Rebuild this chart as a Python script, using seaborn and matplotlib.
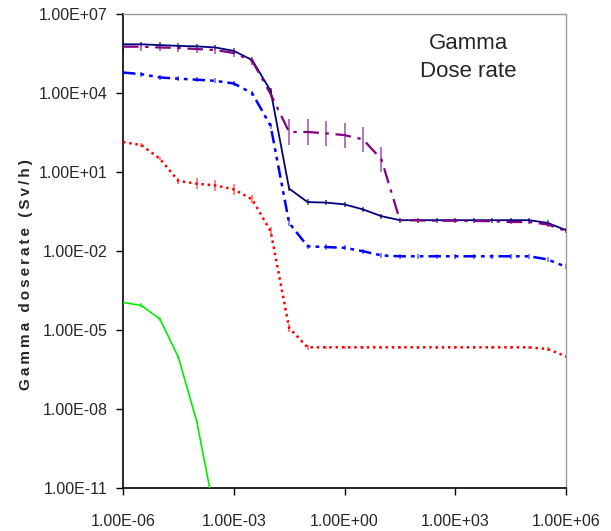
import numpy as np
import pandas as pd
import seaborn as sns
import matplotlib.pyplot as plt
from matplotlib.ticker import FixedLocator, NullLocator

# time grid (half-decade steps)
time = [1e-6, 3.16e-6, 1e-5, 3.16e-5, 1e-4, 3.16e-4, 1e-3, 3.16e-3, 1e-2, 3.16e-2,
        1e-1, 3.16e-1, 1e0, 3.16e0, 1e1, 3.16e1, 1e2, 3.16e2, 1e3, 3.16e3,
        1e4, 3.16e4, 1e5, 3.16e5, 1e6]

navy_vals = [7.08e5, 7.08e5, 6.6e5, 6.17e5, 5.89e5, 5.37e5, 3.98e5, 1.78e5, 1.2e4, 2.34,
             0.72, 0.69, 0.59, 0.38, 0.21, 0.148, 0.148, 0.148, 0.148, 0.148,
             0.148, 0.148, 0.148, 0.117, 0.062]
purple_vals = [5.75e5, 5.75e5, 5.37e5, 5.13e5, 4.68e5, 4.27e5, 3.31e5, 1.66e5, 9.1e3, 331,
               331, 295, 251, 174, 30.2, 0.148, 0.145, 0.141, 0.141, 0.138,
               0.135, 0.126, 0.126, 0.102, 0.0575]
blue_vals = [6.0e4, 5.2e4, 3.9e4, 3.5e4, 3.2e4, 2.9e4, 2.3e4, 9.8e3, 560, 0.117,
             0.0151, 0.0141, 0.0132, 0.0098, 0.0068, 0.0063, 0.0063, 0.0063, 0.0063, 0.0063,
             0.0063, 0.0063, 0.0063, 0.0048, 0.0025]
red_vals = [138, 105, 32, 4.6, 3.6, 3.1, 2.2, 0.91, 0.056, 1.2e-5,
            2.2e-6, 2.2e-6, 2.2e-6, 2.2e-6, 2.2e-6, 2.2e-6, 2.2e-6, 2.2e-6, 2.2e-6, 2.2e-6,
            2.2e-6, 2.2e-6, 2.2e-6, 1.9e-6, 1.0e-6]
green_vals = [1.12e-4, 8.5e-5, 2.6e-5, 9.3e-7, 3.3e-9, 8e-13]

# error bar half-widths in decades
navy_err = [0.1] * 25
purple_err = [0.15, 0.15, 0.15, 0.15, 0.15, 0.15, 0.15, 0.15, 0.12, 0.48,
              0.48, 0.48, 0.48, 0.48, 0.48, 0.08, 0.08, 0.08, 0.08, 0.08,
              0.08, 0.08, 0.08, 0.08, 0.08]
blue_err = [0.1] * 25
red_err = [0.05, 0.08, 0.05, 0.12, 0.2, 0.2, 0.2, 0.15, 0.15, 0.15,
           0.1, 0.06, 0.06, 0.06, 0.06, 0.06, 0.06, 0.06, 0.06, 0.06,
           0.06, 0.06, 0.06, 0.06, 0.06]
green_err = [0.05, 0.08, 0.08, 0.08, 0.05, 0.05]

xtick_vals = [1e-6, 1e-3, 1e0, 1e3, 1e6]
xtick_labels = ['1.00E-06', '1.00E-03', '1.00E+00', '1.00E+03', '1.00E+06']
ytick_vals = [1e7, 1e4, 1e1, 1e-2, 1e-5, 1e-8, 1e-11]
ytick_labels = ['1.00E+07', '1.00E+04', '1.00E+01', '1.00E-02', '1.00E-05', '1.00E-08', '1.00E-11']

sns.set_style('ticks')
plt.rcParams['font.family'] = ['Liberation Sans', 'DejaVu Sans']

fig = plt.figure(figsize=(6.11, 5.31), dpi=100)
ax = fig.add_axes([0.2013, 0.081, 0.7251, 0.8926])
ax.set_xscale('log')
ax.set_yscale('log')

series = [
    (navy_vals, navy_err, '#000080', '#555555', (None, None), 1.3),
    (purple_vals, purple_err, '#800080', '#a45cb4', (7, 3, 1.5, 3), 1.6),
    (blue_vals, blue_err, '#0000ff', '#6f6fff', (5, 2, 1.5, 2, 1.5, 2), 1.8),
    (red_vals, red_err, '#ff0000', '#ff7070', (1, 1.5), 1.8),
    (green_vals, green_err, '#00ee00', '#66ee66', (None, None), 1.2),
]

for vals, err, col, ecol, dash, lw in series:
    x = time[:len(vals)]
    y = np.array(vals)
    e = np.array(err)
    ax.errorbar(x, y, yerr=[y - y / 10 ** e, y * 10 ** e - y], fmt='none',
                ecolor=ecol, elinewidth=1.2, capsize=0, zorder=2)
    df = pd.DataFrame({'t': x, 'v': y})
    line = sns.lineplot(data=df, x='t', y='v', ax=ax, color=col, linewidth=lw, zorder=3)
    if dash[0] is not None:
        line.lines[-1].set_dashes(dash)

ax.set_xlim(1e-6, 1e6)
ax.set_ylim(1e-11, 1e7)
ax.xaxis.set_major_locator(FixedLocator(xtick_vals))
ax.yaxis.set_major_locator(FixedLocator(ytick_vals))
ax.xaxis.set_minor_locator(NullLocator())
ax.yaxis.set_minor_locator(NullLocator())
ax.set_xticklabels(xtick_labels)
ax.set_yticklabels(ytick_labels)
ax.tick_params(axis='both', labelsize=11.5, length=5, width=1, color='black', pad=6)
ax.tick_params(axis='x', pad=14)

for s in ['left', 'bottom']:
    ax.spines[s].set_color('black')
    ax.spines[s].set_linewidth(1.2)
for s in ['top', 'right']:
    ax.spines[s].set_visible(True)
    ax.spines[s].set_color('#999999')
    ax.spines[s].set_linewidth(1)

ax.set_xlabel('')
ylab = '\u2009'.join('Gamma doserate (Sv/h)')
ax.set_ylabel(ylab, fontsize=11, fontweight='bold', labelpad=4)
ax.yaxis.set_label_coords(-0.203, 0.45)

fig.text(0.766, 0.918, 'Gamma', fontsize=16, ha='center', va='center')
fig.text(0.766, 0.866, 'Dose rate', fontsize=16, ha='center', va='center')

fig.savefig('out.png', dpi=100)
